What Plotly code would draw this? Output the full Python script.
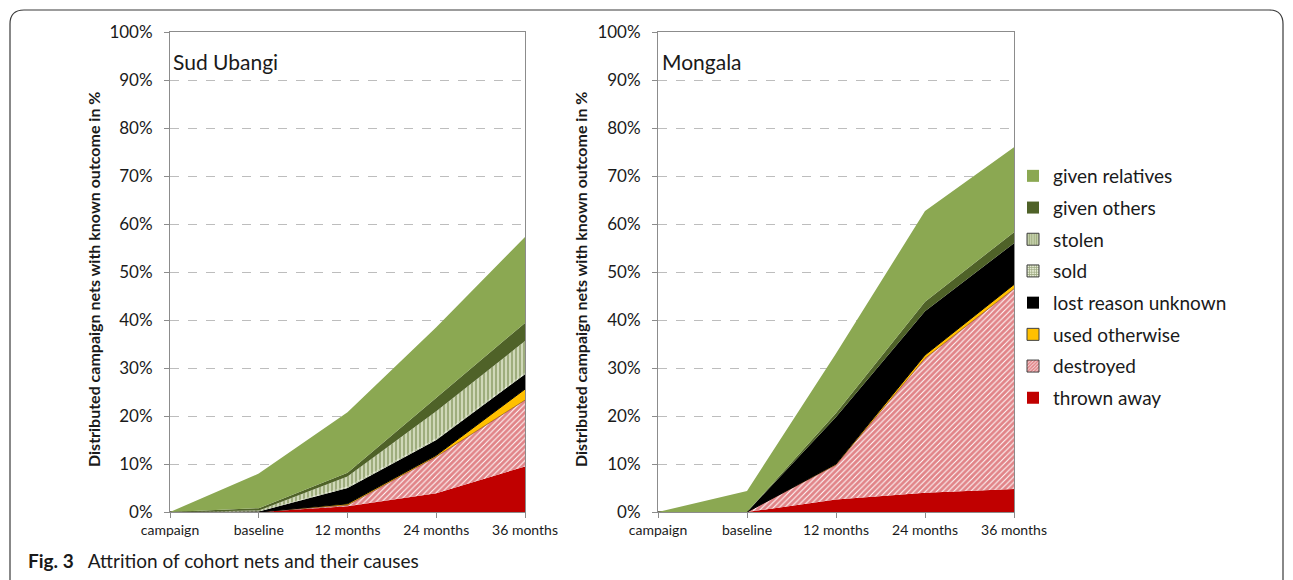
import plotly.graph_objects as go

W, H = 1293, 580

periods = ["campaign", "baseline", "12 months", "24 months", "36 months"]

# Sud Ubangi: share of distributed nets (%) lost per cause, bottom of stack first
su_thrown_away = [0, 0, 1.2, 3.9, 9.5]
su_destroyed = [0, 0, 0.2, 7.6, 13.8]
su_used_otherwise = [0, 0, 0.3, 0.3, 2.3]
su_lost_unknown = [0, 0.1, 3.3, 3.2, 3.1]
su_sold = [0, 0, 0.3, 0.3, 0.3]
su_stolen = [0, 0.2, 2.1, 5.7, 6.6]
su_given_others = [0, 0.5, 0.8, 2.7, 3.8]
su_given_relatives = [0, 7.2, 12.6, 14.8, 17.9]

# Mongala
mo_thrown_away = [0, 0, 2.6, 4.0, 4.8]
mo_destroyed = [0, 0, 7.2, 28.0, 41.7]
mo_used_otherwise = [0, 0, 0.2, 0.7, 0.9]
mo_lost_unknown = [0, 0, 9.8, 9.1, 8.6]
mo_sold = [0, 0, 0, 0, 0]
mo_stolen = [0, 0, 0, 0, 0]
mo_given_others = [0, 0, 0.8, 2.0, 2.3]
mo_given_relatives = [0, 4.4, 12.4, 18.9, 17.7]

causes = ["thrown away", "destroyed", "used otherwise", "lost reason unknown",
          "sold", "stolen", "given others", "given relatives"]
ytick_vals = list(range(0, 101, 10))
ytick_text = [f"{v}%" for v in ytick_vals]

sud_ubangi = [su_thrown_away, su_destroyed, su_used_otherwise, su_lost_unknown,
              su_sold, su_stolen, su_given_others, su_given_relatives]
mongala = [mo_thrown_away, mo_destroyed, mo_used_otherwise, mo_lost_unknown,
           mo_sold, mo_stolen, mo_given_others, mo_given_relatives]

RED = "#C00000"
YELLOW = "#FFC000"
DARK_GREEN = "#4F6228"
LIGHT_GREEN = "#8BA852"

style = {
    "thrown away": dict(color=RED),
    "destroyed": dict(color="white", pattern=dict(shape="/", fgcolor="#C40A12", bgcolor="white",
                                                   size=4, solidity=0.75)),
    "used otherwise": dict(color=YELLOW, line="black"),
    "lost reason unknown": dict(color="black"),
    "sold": dict(color="white", pattern=dict(shape="+", fgcolor="#4F6228", bgcolor="#E6ECD5",
                                              size=4, solidity=0.5)),
    "stolen": dict(color="#D8E0C2", pattern=dict(shape="|", fgcolor="#5F7832", bgcolor="#DCE3C8",
                                                  size=4, solidity=0.6)),
    "given others": dict(color=DARK_GREEN),
    "given relatives": dict(color=LIGHT_GREEN),
}

FONT = "Lato"
TXT = "#1a1a1a"


def px(x):
    return x / W


def py(y):
    return 1 - y / H


fig = go.Figure()

for series, xa, ya, group in [(sud_ubangi, "x", "y", "su"), (mongala, "x2", "y2", "mo")]:
    for name, vals in zip(causes, series):
        st = style[name]
        kw = dict(x=periods, y=vals, name=name, mode="lines", stackgroup=group,
                  xaxis=xa, yaxis=ya, showlegend=False, hoverinfo="skip",
                  fillcolor=st["color"])
        if "line" in st:
            kw["line"] = dict(color=st["line"], width=1)
        elif name == "destroyed":
            kw["line"] = dict(color="#5a1010", width=0.5)
        else:
            kw["line"] = dict(color=st["color"], width=0)
        if "pattern" in st:
            kw["fillpattern"] = st["pattern"]
        fig.add_trace(go.Scatter(**kw))

# legend entries, listed top to bottom
for i, name in enumerate(reversed(causes)):
    st = style[name]
    marker = dict(color=st["color"], line=dict(color="#404040", width=1))
    if name in ("thrown away", "given relatives", "given others", "lost reason unknown"):
        marker["line"] = dict(color=st["color"], width=0)
    if "pattern" in st:
        p = dict(st["pattern"])
        p["size"] = 3
        marker["pattern"] = p
    fig.add_trace(go.Bar(x=[None], y=[None], name=name, marker=marker,
                         legendgroup=f"g{i}", xaxis="x", yaxis="y", showlegend=True))

axis_common = dict(showline=True, mirror=True, linecolor="#8c8c8c", linewidth=1,
                   ticks="outside", ticklen=5, tickcolor="#8c8c8c", zeroline=False,
                   automargin=False,
                   tickfont=dict(family=FONT, size=17, color=TXT))

xax = dict(axis_common, type="category", range=[0, 4], showgrid=False,
           tickfont=dict(family=FONT, size=14, color=TXT), categoryorder="array",
           categoryarray=periods)
yax = dict(axis_common, range=[0, 100], tickvals=ytick_vals, ticktext=ytick_text,
           showgrid=True, gridcolor="#bdbdbd", griddash="dash", gridwidth=1,
           ticklabelstandoff=8)

fig.update_layout(
    width=W, height=H,
    margin=dict(l=0, r=0, t=0, b=0, autoexpand=False),
    paper_bgcolor="white", plot_bgcolor="white",
    font=dict(family=FONT, color=TXT),
    xaxis=dict(xax, domain=[px(170), px(525)], anchor="y"),
    yaxis=dict(yax, domain=[py(512), py(32)], anchor="x"),
    xaxis2=dict(xax, domain=[px(658), px(1014)], anchor="y2"),
    yaxis2=dict(yax, domain=[py(512), py(32)], anchor="x2"),
    showlegend=True,
    legend=dict(x=px(1013), y=py(157), xanchor="left", yanchor="top",
                traceorder="grouped", tracegroupgap=4, itemwidth=30,
                font=dict(family=FONT, size=19, color=TXT), bgcolor="rgba(0,0,0,0)"),
    barmode="overlay",
)

annotations = [
    dict(text="Sud Ubangi", x=px(171), y=py(61), xanchor="left", yanchor="middle",
         font=dict(size=21)),
    dict(text="Mongala", x=px(660), y=py(61), xanchor="left", yanchor="middle",
         font=dict(size=21)),
    dict(text="<b>Distributed campaign nets with known outcome in %</b>", x=px(93),
         y=py(280), textangle=-90, xanchor="center", yanchor="middle", font=dict(size=16)),
    dict(text="<b>Distributed campaign nets with known outcome in %</b>", x=px(580),
         y=py(280), textangle=-90, xanchor="center", yanchor="middle", font=dict(size=16)),
    dict(text="<b>Fig. 3</b>   Attrition of cohort nets and their causes", x=px(26),
         y=py(560), xanchor="left", yanchor="middle", font=dict(size=19, family=FONT)),
]
for a in annotations:
    a.update(xref="paper", yref="paper", showarrow=False)
fig.update_layout(annotations=annotations)

# rounded outer frame, open at the bottom
x0, x1, yt, yb, r = 10, 1283, 10, 582, 14
pts = (f"M {px(x0)},{py(yb)} L {px(x0)},{py(yt + r)} Q {px(x0)},{py(yt)} {px(x0 + r)},{py(yt)} "
       f"L {px(x1 - r)},{py(yt)} Q {px(x1)},{py(yt)} {px(x1)},{py(yt + r)} L {px(x1)},{py(yb)}")
fig.add_shape(type="path", path=pts, xref="paper", yref="paper",
              line=dict(color="#3a3a3a", width=1.2))

fig.write_html("out.html")
